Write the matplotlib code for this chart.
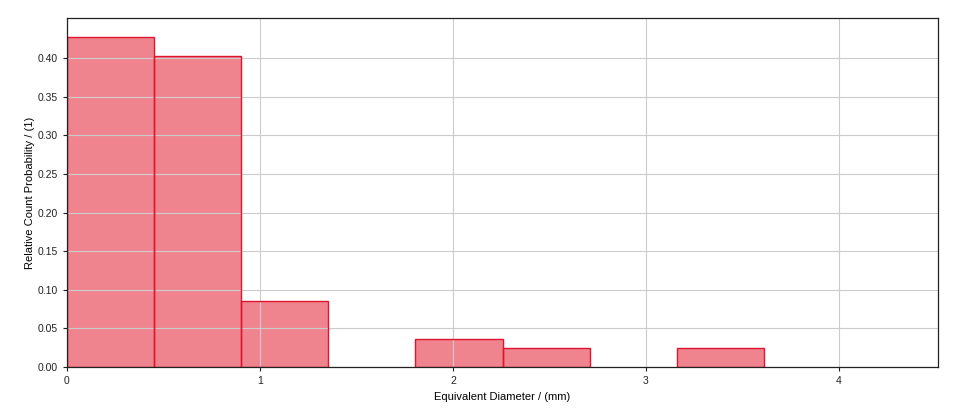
import matplotlib
matplotlib.use("Agg")
import matplotlib.pyplot as plt
import numpy as np

plt.rcParams['font.family'] = ['Liberation Sans', 'DejaVu Sans']

# histogram bins (mm) and relative count probability
bin_width = 0.4513
n_bins = 10
bin_edges = np.arange(n_bins + 1) * bin_width
probability = [0.4268, 0.4024, 0.0854, 0.0, 0.0366, 0.0244, 0.0, 0.0244, 0.0, 0.0]

fig = plt.figure(figsize=(9.6, 4.17), dpi=100)
ax = fig.add_axes([67/960, 1 - 367/417, (938-67)/960, (367-18)/417])

edge_colors = ["#e0142e" if p > 0 else "none" for p in probability]
ax.bar(bin_edges[:-1], probability, width=bin_width, align="edge",
       color="#e10b21", alpha=0.5, edgecolor="none", zorder=1)
ax.bar(bin_edges[:-1], probability, width=bin_width, align="edge",
       fill=False, edgecolor=edge_colors, linewidth=1.0, zorder=3)

ax.set_xlim(0, bin_edges[-1])
ax.set_ylim(0, 0.452)
ax.set_xticks([0, 1, 2, 3, 4])
ax.set_yticks(np.arange(0, 0.41, 0.05))
ax.yaxis.set_major_formatter(matplotlib.ticker.FormatStrFormatter('%.2f'))
ax.grid(True, color="#cccccc", linewidth=0.8, zorder=2)
ax.set_axisbelow(False)
ax.tick_params(labelsize=7.5, length=3, width=0.8, colors="#222222")
ax.set_xlabel("Equivalent Diameter / (mm)", fontsize=8)
ax.set_ylabel("Relative Count Probability / (1)", fontsize=8, labelpad=2)
for s in ax.spines.values():
    s.set_linewidth(0.9)
    s.set_color("#222222")
    s.set_zorder(4)

fig.savefig("out.png", dpi=100)
